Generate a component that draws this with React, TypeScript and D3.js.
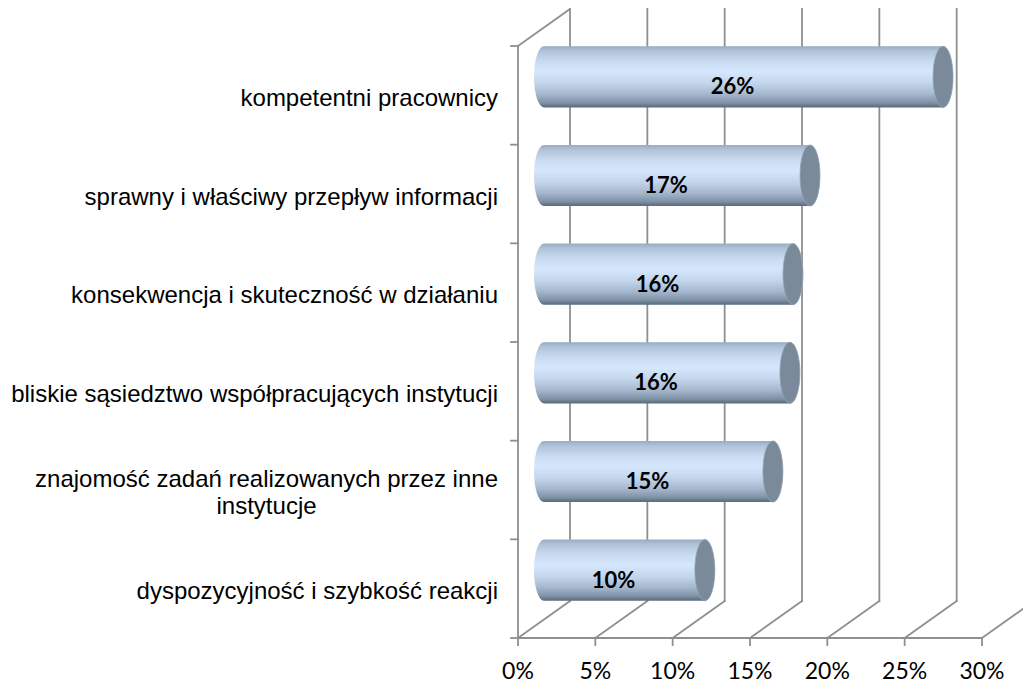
import React, { useEffect, useRef } from "react";
import * as d3 from "d3";

const categories = [
  "kompetentni pracownicy",
  "sprawny i właściwy przepływ informacji",
  "konsekwencja i skuteczność w działaniu",
  "bliskie sąsiedztwo współpracujących instytucji",
  "znajomość zadań realizowanych przez inne\ninstytucje",
  "dyspozycyjność i szybkość reakcji",
];
const values = [25.8, 17.2, 16.1, 15.9, 14.8, 10.4];
const valueLabels = ["26%", "17%", "16%", "16%", "15%", "10%"];
const xTicks = [0, 5, 10, 15, 20, 25, 30];

export default function App() {
  const ref = useRef<SVGSVGElement>(null);

  useEffect(() => {
    const svg = d3.select(ref.current);
    svg.selectAll("*").remove();

    const W = 1023, H = 685;
    const left = 518, right = 982, top = 46, bottom = 638;
    const DX = 52, DY = -37;
    const gridColor = "#8f8f8f";
    const gridW = 1.8;

    const x = d3.scaleLinear().domain([0, 30]).range([left, right]);
    const y = d3.scaleBand<number>().domain(d3.range(categories.length)).range([top, bottom]).padding(0);
    const bw = y.bandwidth();

    const defs = svg.append("defs");
    const grad = defs.append("linearGradient").attr("id", "cylGrad")
      .attr("x1", 0).attr("y1", 0).attr("x2", 0).attr("y2", 1);
    [
      [0, "#97abc1"],
      [0.08, "#b0c3d9"],
      [0.25, "#c9dbf1"],
      [0.42, "#d5e7fc"],
      [0.6, "#c4d6ec"],
      [0.78, "#a5b8ce"],
      [0.92, "#8093a8"],
      [1, "#5a6979"],
    ].forEach(([o, c]) => grad.append("stop").attr("offset", o as number).attr("stop-color", c as string));

    svg.append("rect").attr("width", W).attr("height", H).attr("fill", "#ffffff");

    const g = svg.append("g");
    const line = (x1: number, y1: number, x2: number, y2: number) =>
      g.append("line").attr("x1", x1).attr("y1", y1).attr("x2", x2).attr("y2", y2)
        .attr("stroke", gridColor).attr("stroke-width", gridW).attr("stroke-linecap", "square");

    // back wall gridlines
    xTicks.forEach((t) => line(x(t) + DX, top + DY, x(t) + DX, bottom + DY));
    // floor diagonals
    xTicks.forEach((t) => line(x(t), bottom, x(t) + DX, bottom + DY));
    // top-left diagonal
    line(left, top, left + DX, top + DY);
    // front left axis
    line(left, top, left, bottom);
    // front floor line
    line(left, bottom, right, bottom);
    // x tick marks
    xTicks.forEach((t) => line(x(t), bottom, x(t), bottom + 7));
    // y tick marks
    const yBounds = [top, ...d3.range(1, categories.length).map((i) => y(i)!), bottom];
    yBounds.forEach((yy) => line(left - 7, yy, left, yy));

    // bars
    const rx = 10;
    const barH = bw * 0.62;
    const ry = barH / 2;
    values.forEach((v, i) => {
      const cx0 = x(0) + DX / 2;
      const cx1 = x(v) + DX / 2;
      const cy = y(i)! + bw / 2 + DY / 2;
      const path = `M${cx0},${cy - ry} L${cx1},${cy - ry} A${rx},${ry} 0 0 1 ${cx1},${cy + ry} L${cx0},${cy + ry} A${rx},${ry} 0 0 1 ${cx0},${cy - ry} Z`;
      g.append("path").attr("d", path).attr("fill", "url(#cylGrad)");
      g.append("ellipse").attr("cx", cx1).attr("cy", cy).attr("rx", rx).attr("ry", ry)
        .attr("fill", "#7a8a9b").attr("stroke", "#93a3b3").attr("stroke-width", 0.8);
      g.append("text")
        .attr("x", (cx0 + cx1) / 2 - 11)
        .attr("y", cy + 9)
        .attr("text-anchor", "middle")
        .attr("dominant-baseline", "central")
        .attr("font-family", "Lato, 'Open Sans', sans-serif")
        .attr("font-weight", 700)
        .attr("font-size", 22)
        .attr("fill", "#000")
        .text(valueLabels[i]);
    });

    // category labels
    const labelRight = 498;
    categories.forEach((c, i) => {
      const lines = c.split("\n");
      const cy = y(i)! + bw / 2;
      const base = cy + 10.5 - ((lines.length - 1) * 27) / 2;
      if (lines.length === 1) {
        g.append("text").attr("x", labelRight).attr("y", base)
          .attr("text-anchor", "end")
          .attr("font-family", "'Liberation Sans', Arial, sans-serif")
          .attr("font-size", 24).attr("fill", "#000").text(c);
      } else {
        const t0 = g.append("text").attr("x", labelRight).attr("y", base)
          .attr("text-anchor", "end")
          .attr("font-family", "'Liberation Sans', Arial, sans-serif")
          .attr("font-size", 24).attr("fill", "#000").text(lines[0]);
        const w0 = (t0.node() as SVGTextElement).getComputedTextLength();
        const mid = labelRight - w0 / 2;
        t0.attr("text-anchor", "middle").attr("x", mid);
        lines.slice(1).forEach((ln, k) => {
          g.append("text").attr("x", mid).attr("y", base + 27 * (k + 1))
            .attr("text-anchor", "middle")
            .attr("font-family", "'Liberation Sans', Arial, sans-serif")
            .attr("font-size", 24).attr("fill", "#000").text(ln);
        });
      }
    });

    // x tick labels
    xTicks.forEach((t) => {
      g.append("text").attr("x", x(t)).attr("y", 679)
        .attr("text-anchor", "middle")
        .attr("font-family", "Lato, 'Open Sans', sans-serif")
        .attr("font-size", 23).attr("fill", "#000").text(`${t}%`);
    });
  }, []);

  return (
    <svg ref={ref} width={1023} height={685}
      style={{ position: "absolute", left: 0, top: 0, display: "block" }} />
  );
}
